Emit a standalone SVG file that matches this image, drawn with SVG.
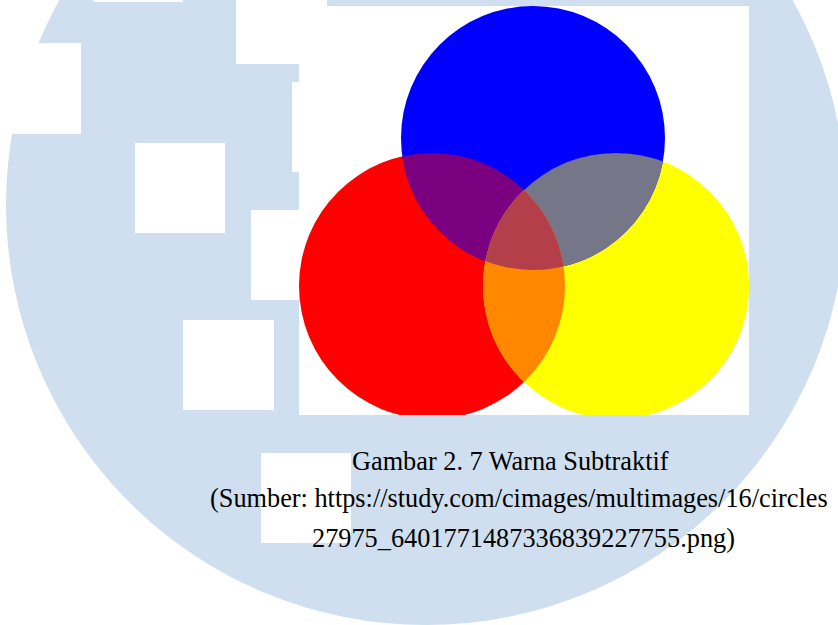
<svg xmlns="http://www.w3.org/2000/svg" width="838" height="625" viewBox="0 0 838 625">
  <style>
    .wm { fill: #CFDFEF; }
    .hole { fill: #FFFFFF; }
    .cap { font-family: "Liberation Serif", "Times New Roman", serif; font-size: 26.3px; fill: #000000; }
  </style>
  <defs>
    <clipPath id="clipRed"><circle cx="432" cy="286" r="133"/></clipPath>
    <clipPath id="clipYellow"><circle cx="616" cy="286" r="133"/></clipPath>
    <clipPath id="clipImg"><rect x="299" y="6" width="450" height="409"/></clipPath>
  </defs>
  <rect x="0" y="0" width="838" height="625" fill="#FFFFFF"/>
  <g id="watermark">
    <circle class="wm" cx="426" cy="205" r="420"/>
    <rect class="hole" x="93" y="-88" width="90" height="90"/>
    <rect class="hole" x="236" y="-26" width="91" height="90"/>
    <rect class="hole" x="-9" y="43" width="90" height="91"/>
    <rect class="hole" x="135" y="143" width="90" height="90"/>
    <rect class="hole" x="292" y="82" width="90" height="90"/>
    <rect class="hole" x="251" y="210" width="90" height="90"/>
    <rect class="hole" x="183" y="320" width="91" height="90"/>
    <rect class="hole" x="261" y="453" width="90" height="90"/>
  </g>
  <g id="picture" clip-path="url(#clipImg)">
    <rect x="299" y="6" width="450" height="409" fill="#FFFFFF"/>
    <g id="red"><circle cx="432" cy="286" r="133" fill="#FF0000"/></g>
    <g id="yellow"><circle cx="616" cy="286" r="133" fill="#FFFF00"/></g>
    <g id="blue"><circle cx="533" cy="138" r="132" fill="#0000FF"/></g>
    <g id="red-blue" clip-path="url(#clipRed)"><circle cx="533" cy="138" r="132" fill="#7A0080"/></g>
    <g id="blue-yellow" clip-path="url(#clipYellow)"><circle cx="533" cy="138" r="132" fill="#767689"/></g>
    <g id="red-yellow" clip-path="url(#clipRed)"><circle cx="616" cy="286" r="133" fill="#FF8800"/></g>
    <g id="center" clip-path="url(#clipRed)"><g clip-path="url(#clipYellow)"><circle cx="533" cy="138" r="132" fill="#B33F4A"/></g></g>
  </g>
  <g id="caption">
    <text class="cap" x="352" y="470">Gambar 2. 7 Warna Subtraktif</text>
    <text class="cap" x="210" y="507">(Sumber: https://study.com/cimages/multimages/16/circles</text>
    <text class="cap" x="312" y="547">27975_6401771487336839227755.png)</text>
  </g>
</svg>
